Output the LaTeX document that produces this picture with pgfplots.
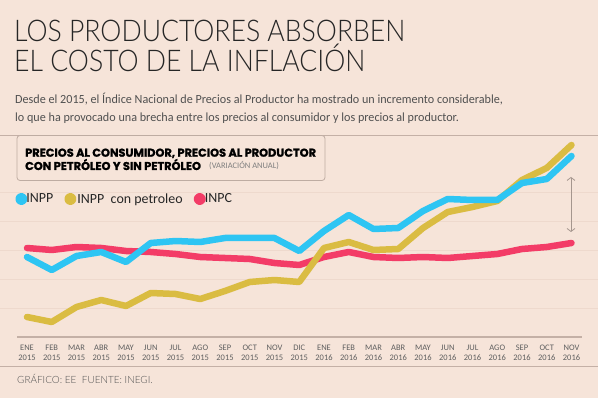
\documentclass[border=0pt]{standalone}
\usepackage{pgfplots}
\pgfplotsset{compat=1.18}
\usetikzlibrary{arrows.meta}
\usepackage{fontspec}
\setmainfont{Carlito}[FakeStretch=0.975]
\newfontfamily\legfont{Carlito}
\newfontfamily\titlefont{Lato Light}[FakeStretch=0.89]
\newfontfamily\footfont{Lato Light}
\newfontfamily\heavyfont{Poppins}[BoldFeatures={FakeBold=1.3}]
\definecolor{bg}{RGB}{246,228,217}
\definecolor{gridc}{RGB}{238,217,205}
\definecolor{axc}{RGB}{196,176,166}
\definecolor{boxc}{RGB}{190,172,162}
\definecolor{cblue}{RGB}{46,197,243}
\definecolor{cyellow}{RGB}{218,188,66}
\definecolor{cred}{RGB}{243,60,103}
\definecolor{titc}{RGB}{38,38,38}
\definecolor{subc}{RGB}{80,80,80}
\definecolor{tickc}{RGB}{95,95,95}
\definecolor{arrc}{RGB}{165,150,142}
\begin{document}
\begin{tikzpicture}
\fill[bg] (0,0) rectangle (598bp,398bp);
\begin{scope}[x=1bp,y=-1bp,yshift=398bp]
  \draw[axc, line width=1bp] (0,135.5) -- (598,135.5);
  \draw[axc, line width=1bp] (0,367) -- (598,367);
\end{scope}
\begin{axis}[
  at={(0,61bp)}, anchor=south west,
  width=598bp, height=202bp, scale only axis,
  xmin=-1.0909, xmax=23.0707, ymin=0, ymax=202,
  clip=false,
  axis line style={draw=none},
  major tick length=0pt,
  ytick={28.5,57.5,86.5,115.5,145}, yticklabels={},
  ymajorgrids, grid style={gridc, line width=0.9bp},
  xtick={0,...,22},
  xticklabels={{ENE\\2015},{FEB\\2015},{MAR\\2015},{ABR\\2015},{MAY\\2015},{JUN\\2015},{JUL\\2015},{AGO\\2015},{SEP\\2015},{OCT\\2015},{NOV\\2015},{DIC\\2015},{ENE\\2016},{FEB\\2016},{MAR\\2016},{ABR\\2016},{MAY\\2016},{JUN\\2016},{JUL\\2016},{AGO\\2016},{SEP\\2016},{OCT\\2016},{NOV\\2016}},
  xticklabel style={align=center, font=\legfont\fontsize{8.5}{10}\selectfont, text=tickc, inner sep=0pt, anchor=north, yshift=-7.5bp},
  legend columns=3, legend reversed,
  legend image code/.code={\fill (0bp,0bp) circle (2.8bp);},
  legend style={draw=none, fill=none, at={(axis cs:-0.6,138)}, anchor=west,
    font=\legfont\fontsize{14}{14}\selectfont, text=titc,
    nodes={inner xsep=1bp, inner ysep=0bp},
    /tikz/every odd column/.append style={column sep=-2bp},
    /tikz/every even column/.append style={column sep=10bp}},
  every axis plot/.append style={line width=6.5bp, line join=round, line cap=round},
]
\addplot[cred] coordinates {(0,89)(1,87)(2,90)(3,89)(4,86)(5,85)(6,83)(7,80)(8,79)(9,78)(10,74)(11,72)(12,80)(13,85)(14,80)(15,79)(16,80)(17,79)(18,81)(19,83)(20,88)(21,90)(22,94)};
\addlegendentry{INPC}
\addplot[cyellow] coordinates {(0,20)(1,15)(2,30)(3,37)(4,31)(5,44)(6,43)(7,38)(8,46)(9,55)(10,57)(11,55)(12,89)(13,95)(14,87)(15,88)(16,109)(17,125)(18,130)(19,136)(20,157)(21,169)(22,192)};
\addlegendentry{\hspace{2bp}INPP\ \ con petroleo}
\addplot[cblue] coordinates {(0,80)(1,67)(2,81)(3,85)(4,75)(5,94)(6,96)(7,95)(8,99)(9,99)(10,99)(11,86)(12,106)(13,122)(14,108)(15,109)(16,126)(17,138)(18,137)(19,137)(20,154)(21,158)(22,181)};
\addlegendentry{INPP\hspace{4bp}}
\end{axis}
\begin{scope}[x=1bp,y=-1bp,yshift=398bp]
  \draw[axc, line width=1.6bp] (17,337) -- (582,337);
  \draw[arrc, line width=0.8bp, {Straight Barb[length=3bp,width=8bp]}-{Straight Barb[length=3bp,width=8bp]}] (571,177) -- (571,232);
  \node[anchor=base west, inner sep=0, text=titc, font=\titlefont\fontsize{30}{30}\selectfont] at (14,41.7) {LOS PRODUCTORES ABSORBEN};
  \node[anchor=base west, inner sep=0, text=titc, font=\titlefont\fontsize{30}{30}\selectfont] at (14,71.7) {EL COSTO DE LA INFLACIÓN};
  \node[anchor=base west, inner sep=0, text=subc, font=\fontsize{12.5}{12.5}\selectfont] at (15,104) {Desde el 2015, el Índice Nacional de Precios al Productor ha mostrado un incremento considerable,};
  \node[anchor=base west, inner sep=0, text=subc, font=\fontsize{12.5}{12.5}\selectfont] at (15,122) {lo que ha provocado una brecha entre los precios al consumidor y los precios al productor.};
  \filldraw[fill=bg, draw=boxc, line width=0.8bp, rounded corners=3bp] (17,135.5) rectangle (325,180.5);
  \node[anchor=base west, inner sep=0, text=black, font=\heavyfont\bfseries\fontsize{11.4}{11.4}\selectfont] at (25,156.7) {PRECIOS AL CONSUMIDOR, PRECIOS AL PRODUCTOR};
  \node[anchor=base west, inner sep=0, text=black, font=\heavyfont\bfseries\fontsize{11.4}{11.4}\selectfont] at (25,170) {CON PETRÓLEO Y SIN PETRÓLEO};
  \node[anchor=base west, inner sep=0, text=tickc!80, font=\legfont\fontsize{8.5}{8.5}\selectfont] at (209,169) {(VARIACIÓN ANUAL)};
  \node[anchor=base west, inner sep=0, text=subc, font=\footfont\fontsize{10}{10}\selectfont] at (17,384) {GRÁFICO: EE\ \ FUENTE: INEGI.};
\end{scope}
\pgfresetboundingbox
\useasboundingbox (0,0) rectangle (598bp,398bp);
\end{tikzpicture}
\end{document}
